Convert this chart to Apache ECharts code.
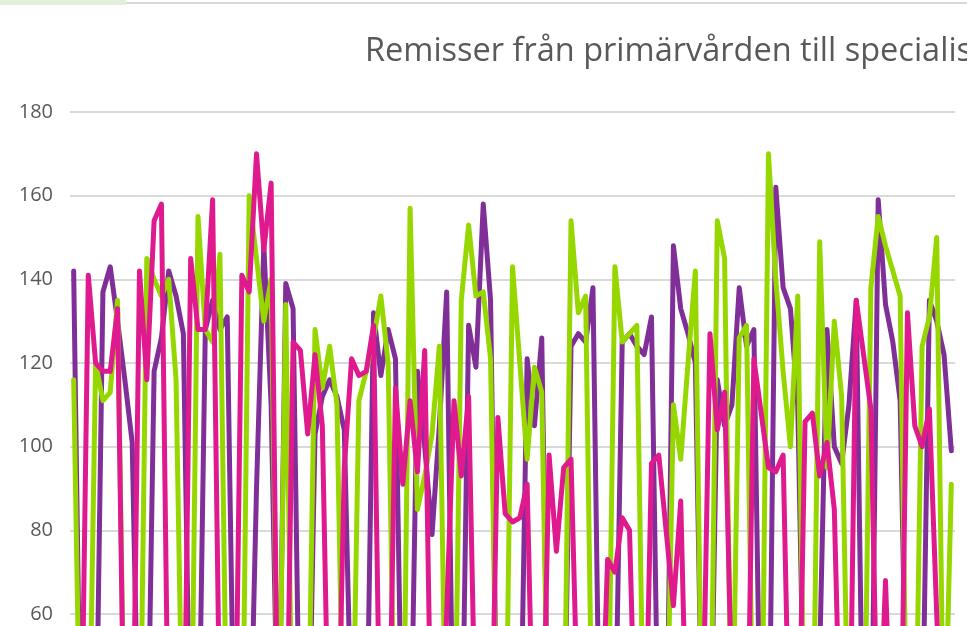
<!DOCTYPE html>
<html>
<head>
<meta charset="utf-8">
<script src="https://cdn.jsdelivr.net/npm/echarts@6/dist/echarts.min.js"></script>
<style>
  html, body { margin: 0; padding: 0; background: #fff; }
  #chart { width: 967px; height: 626px; }
</style>
</head>
<body>
<div id="chart"></div>
<script>
// dag 1..121
const days = []
for (let d = 1; d <= 121; d++) days.push(String(d))

const yTicks = [0, 20, 40, 60, 80, 100, 120, 140, 160, 180]

const purple = [
  142, 20, 15, 18, 137, 143, 130, 116, 101, 15,
  12, 118, 126, 142, 136, 127, 18, 14, 128, 135,
  128, 131, 20, 15, 15, 90, 148, 110, 20, 139,
  133, 15, 12, 103, 112, 116, 112, 104, 30, 15,
  20, 132, 117, 128, 121, 14, 16, 118, 100, 79,
  105, 137, 14, 13, 129, 119, 158, 135, 15, 12,
  20, 18, 121, 105, 126, 15, 12, 20, 124, 127,
  125, 138, 15, 12, 25, 125, 127, 124, 122, 131,
  18, 14, 148, 133, 127, 120, 20, 15, 116, 105,
  110, 138, 124, 128, 15, 12, 162, 138, 133, 110,
  20, 15, 50, 128, 100, 96, 110, 135, 15, 12,
  159, 134, 125, 111, 20, 15, 25, 135, 130, 122,
  99]

const green = [
  116, 15, 12, 120, 111, 113, 135, 20, 15, 12,
  145, 140, 136, 140, 116, 15, 12, 155, 128, 125,
  146, 20, 15, 12, 160, 145, 130, 140, 20, 134,
  15, 12, 20, 128, 114, 124, 110, 15, 12, 111,
  118, 126, 136, 120, 15, 12, 157, 85, 93, 103,
  124, 15, 12, 135, 153, 136, 137, 121, 15, 12,
  143, 120, 97, 119, 113, 15, 12, 20, 154, 132,
  136, 15, 12, 20, 143, 125, 127, 129, 20, 15,
  12, 18, 110, 97, 120, 142, 15, 12, 154, 145,
  20, 126, 129, 15, 12, 170, 140, 118, 100, 136,
  15, 12, 149, 95, 130, 112, 20, 15, 12, 138,
  155, 148, 142, 136, 15, 12, 124, 131, 150, 20,
  91]

const magenta = [
  15, 18, 141, 120, 118, 118, 133, 15, 12, 142,
  116, 154, 158, 20, 15, 12, 145, 128, 128, 159,
  30, 15, 12, 141, 137, 170, 147, 163, 15, 12,
  125, 123, 103, 122, 105, 15, 12, 95, 121, 117,
  118, 129, 15, 12, 114, 91, 111, 94, 123, 15,
  12, 60, 111, 93, 112, 25, 15, 12, 107, 84,
  82, 83, 91, 15, 12, 98, 75, 95, 97, 30,
  15, 12, 20, 73, 70, 83, 80, 15, 12, 96,
  98, 80, 62, 87, 15, 12, 30, 127, 104, 113,
  40, 15, 12, 121, 108, 95, 94, 98, 15, 12,
  106, 108, 93, 101, 85, 15, 12, 135, 122, 109,
  20, 68, 15, 12, 132, 105, 100, 109, 60, 15,
  12]

const colors = ['#7f2f97', '#97d700', '#df1a8e']
const names = ['Serie 1', 'Serie 2', 'Serie 3']

const chart = echarts.init(document.getElementById('chart'), null, { renderer: 'canvas' })

function lineSeries(name, data, color) {
  return {
    name: name,
    type: 'line',
    data: data,
    showSymbol: false,
    symbol: 'none',
    smooth: false,
    lineStyle: { width: 5, color: color, cap: 'round', join: 'round' },
    itemStyle: { color: color },
    animation: false
  }
}

const options = {
  animation: false,
  backgroundColor: '#ffffff',
  title: {
    text: 'Remisser från primärvården till specialistvården',
    left: 360,
    top: 30,
    textStyle: {
      fontFamily: 'Open Sans',
      fontSize: 32.5,
      fontWeight: 'normal',
      color: '#595959'
    }
  },
  graphic: [
    { type: 'rect', shape: { x: 0, y: 0, width: 126, height: 5 }, style: { fill: '#e2efda' } },
    { type: 'rect', shape: { x: 126, y: 2, width: 841, height: 2 }, style: { fill: '#d9d9d9' } }
  ],
  grid: {
    left: 70,
    top: 112,
    width: 885,
    height: 753,
    outerBoundsMode: 'none'
  },
  xAxis: {
    type: 'category',
    data: days,
    boundaryGap: true,
    axisLine: { show: false },
    axisTick: { show: false },
    axisLabel: { show: false }
  },
  yAxis: {
    type: 'value',
    min: yTicks[0],
    max: yTicks[yTicks.length - 1],
    interval: 20,
    axisLine: { show: false },
    axisTick: { show: false },
    axisLabel: {
      color: '#595959',
      fontFamily: 'Open Sans',
      fontSize: 20,
      margin: 17
    },
    splitLine: {
      lineStyle: { color: '#d9d9d9', width: 2 }
    }
  },
  series: [
    lineSeries(names[0], purple, colors[0]),
    lineSeries(names[1], green, colors[1]),
    lineSeries(names[2], magenta, colors[2])
  ]
}

chart.setOption(options)
</script>
</body>
</html>
